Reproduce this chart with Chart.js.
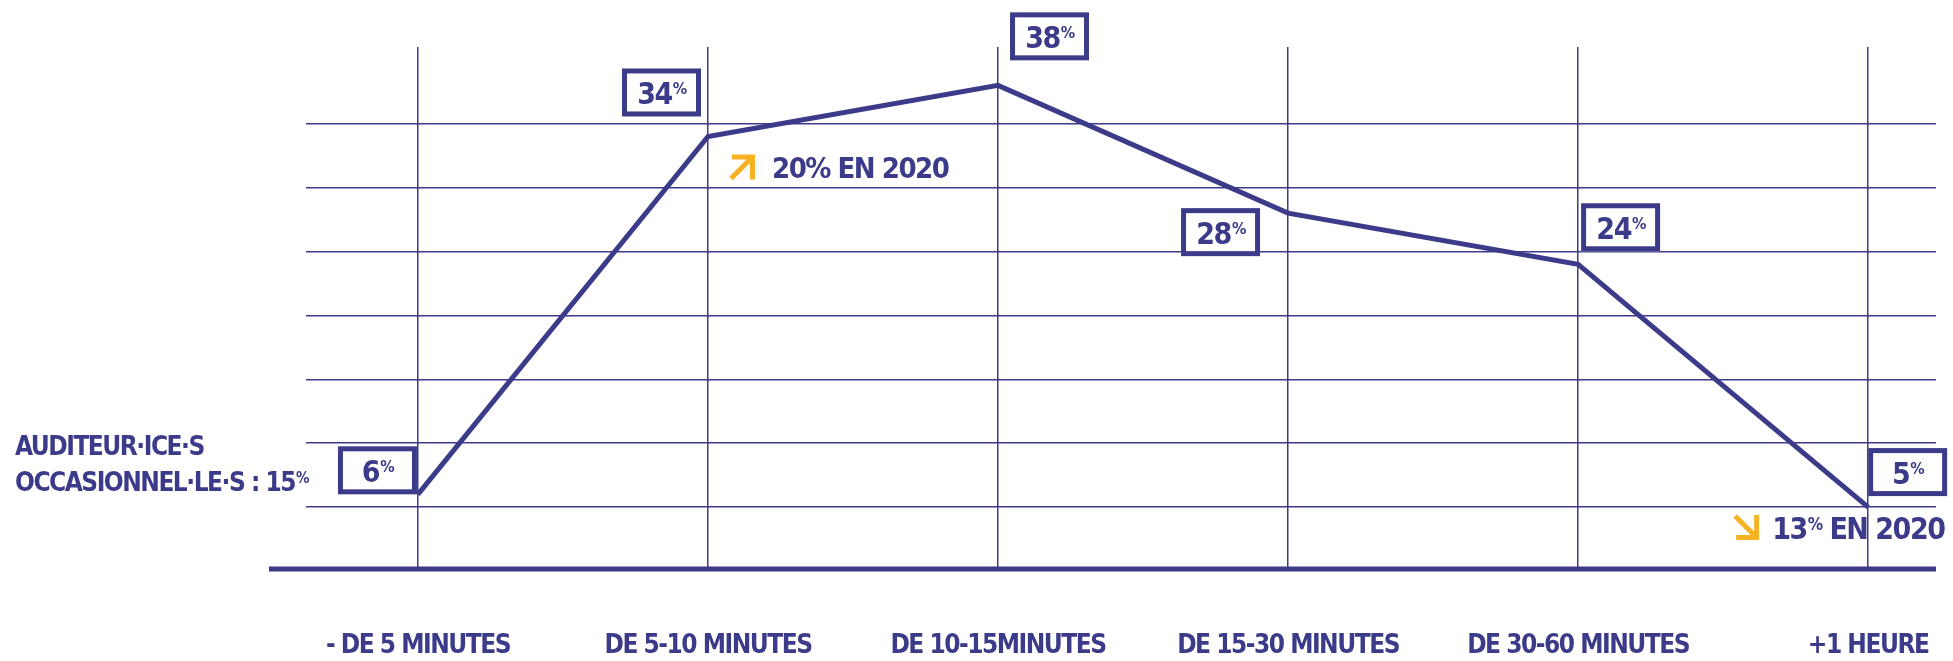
<!DOCTYPE html>
<html>
<head>
<meta charset="utf-8">
<script src="https://cdn.jsdelivr.net/npm/chart.js@4"></script>
<style>
  html, body { margin: 0; padding: 0; background: #fff; }
  #wrap { width: 1953px; height: 661px; position: relative; }
</style>
</head>
<body>
<div id="wrap"><canvas id="durationChart"></canvas></div>
<script>
const categories = ['- DE 5 MINUTES', 'DE 5-10 MINUTES', 'DE 10-15MINUTES', 'DE 15-30 MINUTES', 'DE 30-60 MINUTES', '+1 HEURE'];
const shares = [6, 34, 38, 28, 24, 5];
const gridValues = [5, 10, 15, 20, 25, 30, 35];
const notes2020 = [null, '20% EN 2020', null, null, null, '13% EN 2020'];
const trend2020 = [null, 'up', null, null, null, 'down'];
const sideLabel = ['AUDITEUR·ICE·S', 'OCCASIONNEL·LE·S : 15%'];

// where each value box sits relative to its point (left, top)
const boxOffsets = [[-80, -48], [-86, -68], [12, -73], [-107, -5], [3, -61], [0, -59]];
// arrow + note placement relative to the point: arrow x, arrow y, text x, text baseline
const noteOffsets = [null, [22, 18, 64, 42], null, null, null, [-134, 8, -96, 32]];

const navy = '#3c3b8a';
const orange = '#f5b324';
const family = "'Liberation Sans Narrow', 'DejaVu Sans Condensed', 'Arial Narrow', sans-serif";
const font = (size) => `bold ${size}px ${family}`;

function textWithSup(ctx, main, sup, x, baseline, size, supSize, align) {
  ctx.font = font(size);
  const w1 = ctx.measureText(main).width;
  ctx.font = font(supSize);
  const w2 = sup ? ctx.measureText(sup).width : 0;
  let left = x;
  if (align === 'center') left = x - (w1 + w2 + 1) / 2;
  ctx.textAlign = 'left';
  ctx.textBaseline = 'alphabetic';
  ctx.font = font(size);
  ctx.fillText(main, left, baseline);
  if (sup) {
    ctx.font = font(supSize);
    ctx.fillText(sup, left + w1 + 1, baseline - size * 0.73 + supSize * 0.73);
  }
  return w1 + w2 + 1;
}

function trendArrow(ctx, x, y, dir) {
  const s = 25;
  ctx.save();
  ctx.strokeStyle = orange;
  ctx.lineWidth = 5;
  ctx.lineJoin = 'miter';
  ctx.beginPath();
  if (dir === 'up') {
    ctx.moveTo(x + 1, y + s - 1); ctx.lineTo(x + s - 4, y + 4);
    ctx.moveTo(x + 2, y + 2.5); ctx.lineTo(x + s - 2.5, y + 2.5); ctx.lineTo(x + s - 2.5, y + s);
  } else {
    ctx.moveTo(x + 1, y + 1); ctx.lineTo(x + s - 4, y + s - 4);
    ctx.moveTo(x + 2, y + s - 2.5); ctx.lineTo(x + s - 2.5, y + s - 2.5); ctx.lineTo(x + s - 2.5, y);
  }
  ctx.stroke();
  ctx.restore();
}

const annotate = {
  id: 'annotate',
  beforeDraw(chart) {
    // the original lettering is very tight
    chart.ctx.letterSpacing = '-1.5px';
  },
  beforeDatasetsDraw(chart) {
    const { ctx, chartArea, scales } = chart;
    const y0 = scales.y.getPixelForValue(0);
    ctx.save();
    ctx.strokeStyle = navy;
    ctx.lineWidth = 5;
    ctx.beginPath();
    ctx.moveTo(chartArea.left - 37, y0 - 2);
    ctx.lineTo(chartArea.right, y0 - 2);
    ctx.stroke();
    ctx.restore();
  },
  afterDatasetsDraw(chart) {
    const { ctx, chartArea } = chart;
    const pts = chart.getDatasetMeta(0).data;
    ctx.save();
    // value boxes
    pts.forEach((p, i) => {
      const bx = p.x + boxOffsets[i][0], by = p.y + boxOffsets[i][1];
      ctx.fillStyle = '#fff';
      ctx.fillRect(bx, by, 79, 48);
      ctx.strokeStyle = navy;
      ctx.lineWidth = 5;
      ctx.strokeRect(bx + 2.5, by + 2.5, 74, 43);
      ctx.fillStyle = navy;
      textWithSup(ctx, String(shares[i]), '%', bx + 39.5, by + 36, 30, 16, 'center');
    });
    // 2020 comparisons
    pts.forEach((p, i) => {
      if (!notes2020[i]) return;
      const o = noteOffsets[i];
      trendArrow(ctx, p.x + o[0], p.y + o[1], trend2020[i]);
      ctx.fillStyle = navy;
      if (trend2020[i] === 'up') {
        textWithSup(ctx, notes2020[i], null, p.x + o[2], p.y + o[3], 29, 0, 'left');
      } else {
        const [num, rest] = notes2020[i].split('%');
        const w = textWithSup(ctx, num, '%', p.x + o[2], p.y + o[3], 30, 17, 'left');
        ctx.font = font(30);
        ctx.fillText(rest, p.x + o[2] + w, p.y + o[3]);
      }
    });
    // side label
    const lx = chartArea.left - 291;
    ctx.fillStyle = navy;
    ctx.font = font(26);
    ctx.textAlign = 'left';
    ctx.textBaseline = 'alphabetic';
    ctx.fillText(sideLabel[0], lx, 455);
    const line2 = sideLabel[1];
    textWithSup(ctx, line2.slice(0, -1), '%', lx, 491, 26, 15, 'left');
    ctx.restore();
  }
};

new Chart(document.getElementById('durationChart'), {
  type: 'line',
  data: {
    datasets: [{
      data: shares.map((v, i) => ({ x: i, y: v })),
      borderColor: navy,
      borderWidth: 5,
      pointRadius: 0,
      tension: 0,
      clip: false
    }]
  },
  options: {
    responsive: true,
    maintainAspectRatio: false,
    animation: false,
    layout: { padding: { top: 47, left: 306, right: 17, bottom: 0 } },
    plugins: { legend: { display: false }, tooltip: { enabled: false } },
    scales: {
      x: {
        type: 'linear',
        min: -0.386,
        max: 5.234,
        afterBuildTicks: (s) => { s.ticks = categories.map((_, i) => ({ value: i })); },
        afterFit: (s) => { s.height = 90; s.paddingLeft = 0; s.paddingRight = 0; },
        ticks: {
          callback: (v) => categories[v],
          autoSkip: false,
          maxRotation: 0,
          padding: 60,
          color: navy,
          font: { family: family, size: 26, weight: 'bold' }
        },
        grid: { color: navy, lineWidth: 1.5, drawTicks: false },
        border: { display: false }
      },
      y: {
        min: 0,
        max: 41,
        afterBuildTicks: (s) => { s.ticks = gridValues.map((v) => ({ value: v })); },
        ticks: { display: false },
        grid: { color: navy, lineWidth: 1.5, drawTicks: false },
        border: { display: false }
      }
    }
  },
  plugins: [annotate]
});
</script>
</body>
</html>
